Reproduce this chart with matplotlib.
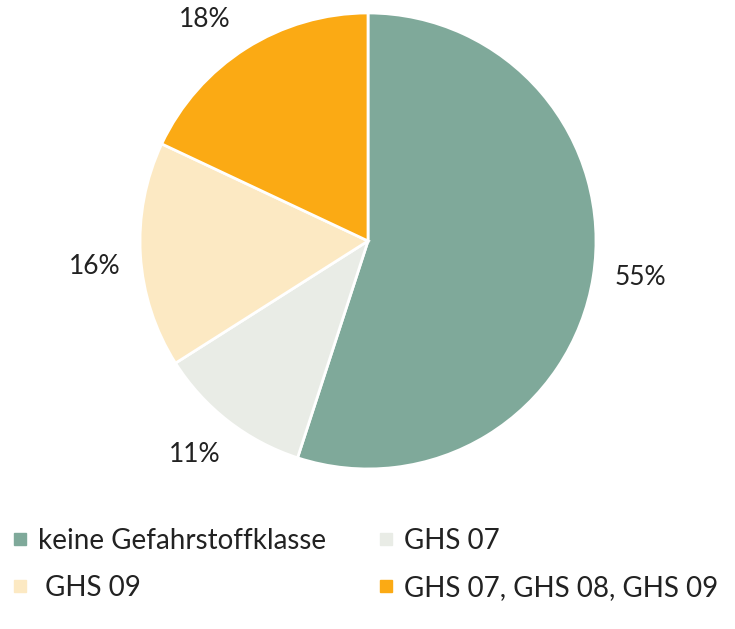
import matplotlib
matplotlib.use("Agg")
import matplotlib.pyplot as plt
import numpy as np
from matplotlib.lines import Line2D

plt.rcParams['font.family'] = ['Lato', 'DejaVu Sans']

categories = ["keine Gefahrstoffklasse", "GHS 07", " GHS 09", "GHS 07, GHS 08, GHS 09"]
values = [55, 11, 16, 18]
colors = ["#7FA99A", "#E9ECE6", "#FCE9C3", "#FBAA14"]
label_angle_nudge = [1.3, -1.2, 1.8, 4.0]   # degrees, label placement only

fig = plt.figure(figsize=(7.35, 6.29), dpi=100)
ax = fig.add_axes([0.1905, 0.2544, 0.6204, 0.725])
wedges, texts = ax.pie(
    values, colors=colors, startangle=90, counterclock=False,
    wedgeprops=dict(edgecolor="white", linewidth=2))
total = sum(values)
for w, v, nudge in zip(wedges, values, label_angle_nudge):
    ang = np.deg2rad((w.theta1 + w.theta2) / 2 + nudge)
    r = 1.205
    ax.text(r * np.cos(ang), r * np.sin(ang), f"{100 * v / total:.0f}%",
            ha='center', va='center', fontsize=19, color="#222222")
ax.set_xlim(-1, 1)
ax.set_ylim(-1, 1)
ax.set_aspect('equal')

order = [0, 2, 1, 3]
handles = [Line2D([0], [0], marker='s', linestyle='none', markersize=9,
                  markerfacecolor=colors[i], markeredgecolor=colors[i]) for i in order]
labels = [categories[i] for i in order]
fig.legend(handles, labels, ncol=2, loc='upper left', bbox_to_anchor=(-0.018, 0.2),
           frameon=False, fontsize=20, handlelength=0.6, handletextpad=0.35,
           columnspacing=1.85, labelspacing=0.75, labelcolor="#222222")

fig.savefig("out.png", dpi=100)
